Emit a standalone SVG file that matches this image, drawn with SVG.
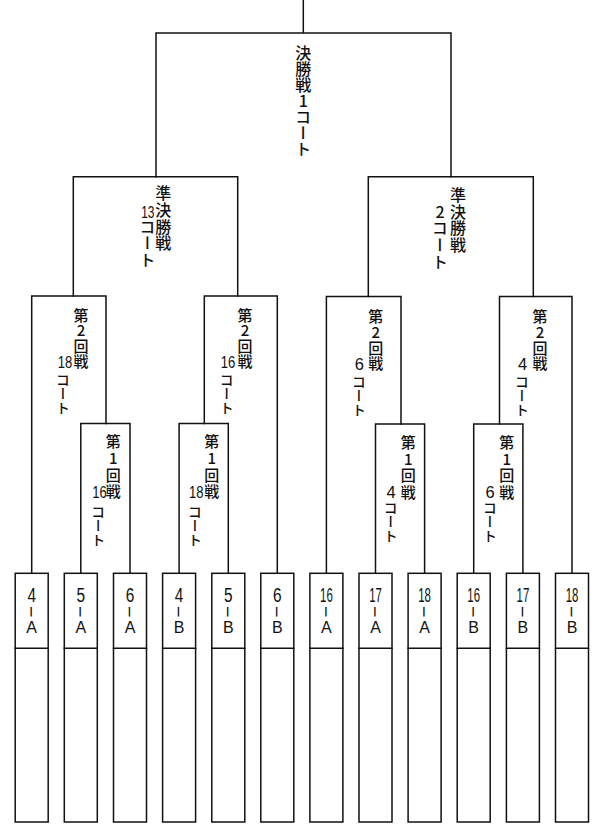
<svg xmlns="http://www.w3.org/2000/svg" width="600" height="834" viewBox="0 0 600 834">
<style>
.ln{stroke:#111;stroke-width:1.5;fill:none;stroke-linecap:square}
.bx{fill:#fff;stroke:#111;stroke-width:1.5}
.v{font-family:"Noto Sans CJK JP","Noto Sans CJK SC",sans-serif;writing-mode:vertical-rl;text-orientation:upright;fill:#111;font-weight:500}
.f{font-size:16px;letter-spacing:0px}
.s{font-size:16px;letter-spacing:0.7px}
.r2{font-size:15px;letter-spacing:0.6px}
.r1{font-size:15px;letter-spacing:1.6px}
.k{font-size:14px;letter-spacing:0px}
.num{font-family:"Liberation Sans",Arial,sans-serif;text-anchor:middle;fill:#111}
.ln16{font-size:16.5px}
.lf{font-size:20px}
.lt{font-family:"Liberation Sans",Arial,sans-serif;text-anchor:middle;fill:#111;font-size:16px}
.bar{font-size:12px}
</style>
<rect width="600" height="834" fill="#fff"/>
<g id="connectors">
<path class="ln" d="M303.3,0V33M156,176.7V33H451V176.7"/>
<path class="ln" d="M73.3,296V176.7H237.7V296"/>
<path class="ln" d="M368.3,296.5V176.7H533.3V296.5"/>
<path class="ln" d="M31.7,573.3V296H106V423.5"/>
<path class="ln" d="M80.8,573.3V423.5H130V573.3"/>
<path class="ln" d="M204.3,423.5V296H277.3V573.3"/>
<path class="ln" d="M179.1,573.3V423.5H228.3V573.3"/>
<path class="ln" d="M326.4,573.3V296.5H401V424"/>
<path class="ln" d="M375.5,573.3V424H424.6V573.3"/>
<path class="ln" d="M499.5,424V296.5H572V573.3"/>
<path class="ln" d="M473.7,573.3V424H522.9V573.3"/>
</g>
<g id="final">
<text class="v f" x="303.3" y="45">決勝戦1コート</text>
</g>
<g id="semifinal-13">
<text class="v s" x="163.3" y="185.3">準決勝戦</text>
<text class="num ln16" transform="translate(147.8,218) scale(0.72,1)">13</text>
<text class="v s" x="147.5" y="218.7">コート</text>
</g>
<g id="semifinal-2">
<text class="v s" x="458" y="187">準決勝戦</text>
<text class="v s" x="440" y="203.7">2コート</text>
</g>
<g id="round2-18">
<text class="v r2" x="81" y="307.5">第2回戦</text>
<text class="num ln16" transform="translate(65,368) scale(0.79,1)">18</text>
<text class="v k" x="63" y="373">コート</text>
</g>
<g id="round1-16">
<text class="v r1" x="113.3" y="434.2">第1回戦</text>
<text class="num ln16" transform="translate(99.5,498) scale(0.79,1)">16</text>
<text class="v k" x="98.3" y="504.7">コート</text>
</g>
<g id="round2-16">
<text class="v r2" x="245" y="307.5">第2回戦</text>
<text class="num ln16" transform="translate(228,368) scale(0.79,1)">16</text>
<text class="v k" x="226.7" y="373">コート</text>
</g>
<g id="round1-18">
<text class="v r1" x="211.7" y="434.2">第1回戦</text>
<text class="num ln16" transform="translate(196.3,498) scale(0.79,1)">18</text>
<text class="v k" x="195" y="504.7">コート</text>
</g>
<g id="round2-6">
<text class="v r2" x="375.7" y="309.2">第2回戦</text>
<text class="num ln16" x="359.3" y="369.5">6</text>
<text class="v k" x="359" y="374.7">コート</text>
</g>
<g id="round1-4">
<text class="v r1" x="408.3" y="435">第1回戦</text>
<text class="num ln16" x="391" y="498">4</text>
<text class="v k" x="390.7" y="500.5">コート</text>
</g>
<g id="round2-4">
<text class="v r2" x="540" y="309.2">第2回戦</text>
<text class="num ln16" x="522.7" y="369.5">4</text>
<text class="v k" x="522" y="374.7">コート</text>
</g>
<g id="round1-6">
<text class="v r1" x="506.7" y="435">第1回戦</text>
<text class="num ln16" x="490" y="498">6</text>
<text class="v k" x="490" y="500.5">コート</text>
</g>
<g id="leaf-4A"><rect class="bx" x="15.2" y="573.3" width="33" height="248.7"/><line class="ln" x1="15.2" y1="648.3" x2="48.2" y2="648.3"/><text class="num lf" transform="translate(31.7,602) scale(0.77,1)">4</text><text class="v bar" x="31.2" y="606">ー</text><text class="lt" x="31.7" y="633">A</text></g>
<g id="leaf-5A"><rect class="bx" x="64.3" y="573.3" width="33" height="248.7"/><line class="ln" x1="64.3" y1="648.3" x2="97.3" y2="648.3"/><text class="num lf" transform="translate(80.8,602) scale(0.77,1)">5</text><text class="v bar" x="80.3" y="606">ー</text><text class="lt" x="80.8" y="633">A</text></g>
<g id="leaf-6A"><rect class="bx" x="113.5" y="573.3" width="33" height="248.7"/><line class="ln" x1="113.5" y1="648.3" x2="146.5" y2="648.3"/><text class="num lf" transform="translate(130,602) scale(0.77,1)">6</text><text class="v bar" x="129.5" y="606">ー</text><text class="lt" x="130" y="633">A</text></g>
<g id="leaf-4B"><rect class="bx" x="162.6" y="573.3" width="33" height="248.7"/><line class="ln" x1="162.6" y1="648.3" x2="195.6" y2="648.3"/><text class="num lf" transform="translate(179.1,602) scale(0.77,1)">4</text><text class="v bar" x="178.6" y="606">ー</text><text class="lt" x="179.1" y="633">B</text></g>
<g id="leaf-5B"><rect class="bx" x="211.8" y="573.3" width="33" height="248.7"/><line class="ln" x1="211.8" y1="648.3" x2="244.8" y2="648.3"/><text class="num lf" transform="translate(228.3,602) scale(0.77,1)">5</text><text class="v bar" x="227.8" y="606">ー</text><text class="lt" x="228.3" y="633">B</text></g>
<g id="leaf-6B"><rect class="bx" x="260.8" y="573.3" width="33" height="248.7"/><line class="ln" x1="260.8" y1="648.3" x2="293.8" y2="648.3"/><text class="num lf" transform="translate(277.3,602) scale(0.77,1)">6</text><text class="v bar" x="276.8" y="606">ー</text><text class="lt" x="277.3" y="633">B</text></g>
<g id="leaf-16A"><rect class="bx" x="309.9" y="573.3" width="33" height="248.7"/><line class="ln" x1="309.9" y1="648.3" x2="342.9" y2="648.3"/><text class="num lf" transform="translate(326.4,602.3) scale(0.57,1)">16</text><text class="v bar" x="325.9" y="606">ー</text><text class="lt" x="326.4" y="633">A</text></g>
<g id="leaf-17A"><rect class="bx" x="359" y="573.3" width="33" height="248.7"/><line class="ln" x1="359" y1="648.3" x2="392" y2="648.3"/><text class="num lf" transform="translate(375.5,602.3) scale(0.57,1)">17</text><text class="v bar" x="375" y="606">ー</text><text class="lt" x="375.5" y="633">A</text></g>
<g id="leaf-18A"><rect class="bx" x="408.1" y="573.3" width="33" height="248.7"/><line class="ln" x1="408.1" y1="648.3" x2="441.1" y2="648.3"/><text class="num lf" transform="translate(424.6,602.3) scale(0.57,1)">18</text><text class="v bar" x="424.1" y="606">ー</text><text class="lt" x="424.6" y="633">A</text></g>
<g id="leaf-16B"><rect class="bx" x="457.2" y="573.3" width="33" height="248.7"/><line class="ln" x1="457.2" y1="648.3" x2="490.2" y2="648.3"/><text class="num lf" transform="translate(473.7,602.3) scale(0.57,1)">16</text><text class="v bar" x="473.2" y="606">ー</text><text class="lt" x="473.7" y="633">B</text></g>
<g id="leaf-17B"><rect class="bx" x="506.4" y="573.3" width="33" height="248.7"/><line class="ln" x1="506.4" y1="648.3" x2="539.4" y2="648.3"/><text class="num lf" transform="translate(522.9,602.3) scale(0.57,1)">17</text><text class="v bar" x="522.4" y="606">ー</text><text class="lt" x="522.9" y="633">B</text></g>
<g id="leaf-18B"><rect class="bx" x="555.5" y="573.3" width="33" height="248.7"/><line class="ln" x1="555.5" y1="648.3" x2="588.5" y2="648.3"/><text class="num lf" transform="translate(572,602.3) scale(0.57,1)">18</text><text class="v bar" x="571.5" y="606">ー</text><text class="lt" x="572" y="633">B</text></g>
</svg>
